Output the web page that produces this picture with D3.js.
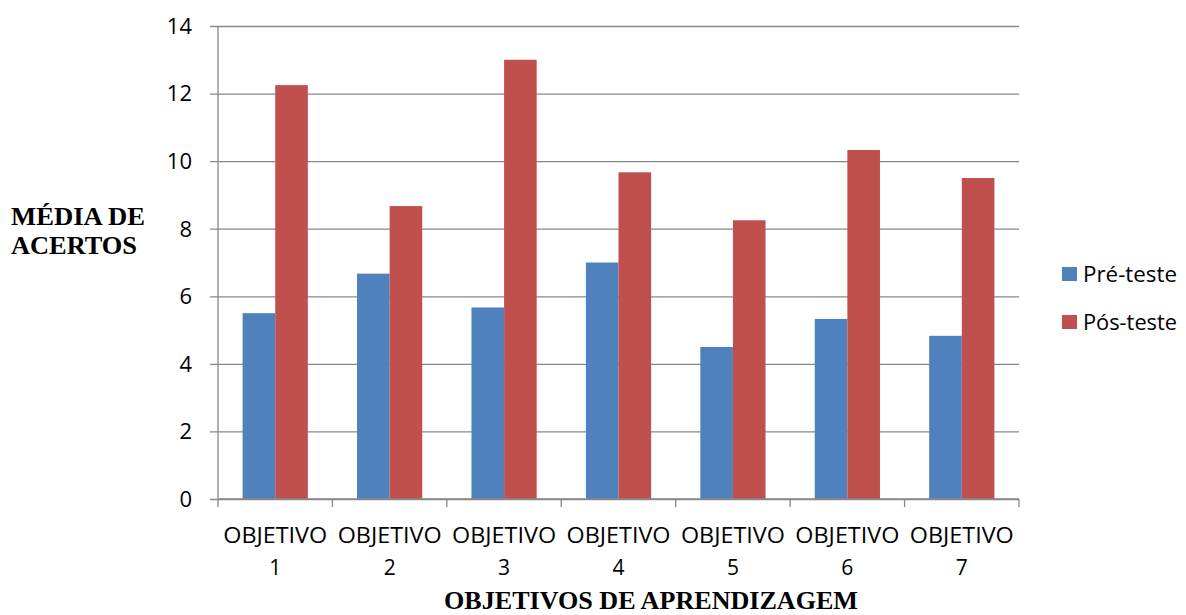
<!DOCTYPE html>
<html>
<head>
<meta charset="utf-8">
<script src="https://cdn.jsdelivr.net/npm/d3@7"></script>
<style>
  html, body { margin: 0; padding: 0; background: #fff; }
  svg { display: block; }
  .sans { font-family: "Open Sans", "Noto Sans", sans-serif; fill: #000; }
  .serif { font-family: "Liberation Serif", "DejaVu Serif", serif; font-weight: bold; fill: #000; }
</style>
</head>
<body>
<svg id="chart" width="1186" height="615"></svg>
<script>
// Average number of correct answers per learning objective, before and after
const categories = ["OBJETIVO 1", "OBJETIVO 2", "OBJETIVO 3", "OBJETIVO 4", "OBJETIVO 5", "OBJETIVO 6", "OBJETIVO 7"];
const preTeste = [5.5, 6.67, 5.67, 7.0, 4.5, 5.33, 4.83];
const posTeste = [12.25, 8.67, 13.0, 9.67, 8.25, 10.33, 9.5];
const seriesNames = ["Pré-teste", "Pós-teste"];
const seriesColors = ["#4F81BD", "#C0504D"];
const yTicks = [0, 2, 4, 6, 8, 10, 12, 14];

const svg = d3.select("#chart");
const plot = { left: 218, right: 1019, top: 26, bottom: 499 };
const gridColor = "#888888";

const x = d3.scaleBand().domain(categories).range([plot.left, plot.right]).paddingInner(0.43).paddingOuter(0.215);
const xSub = d3.scaleBand().domain(seriesNames).range([0, x.bandwidth()]);
const y = d3.scaleLinear().domain([0, 14]).range([plot.bottom, plot.top]);

// Horizontal gridlines with short outward ticks on the left
const yAxis = d3.axisLeft(y).tickValues(yTicks).tickSize(-(plot.right - plot.left) - 8).tickPadding(0).tickFormat("");
const gy = svg.append("g").attr("transform", `translate(${plot.left},0)`).call(yAxis);
gy.select(".domain").remove();
gy.selectAll(".tick line").attr("x1", -8).attr("x2", plot.right - plot.left)
  .attr("stroke", gridColor).attr("stroke-width", 1.3);

// y tick labels
svg.append("g").selectAll("text").data(yTicks).join("text")
  .attr("class", "sans")
  .attr("x", 192).attr("y", d => y(d)).attr("dy", "0.36em")
  .attr("text-anchor", "end").attr("font-size", 22)
  .text(d => d);

// Bars
const rows = categories.map((c, i) => ({ cat: c, values: [preTeste[i], posTeste[i]] }));
const groups = svg.append("g").selectAll("g").data(rows).join("g")
  .attr("transform", d => `translate(${x(d.cat)},0)`);
groups.selectAll("rect").data(d => d.values.map((v, j) => ({ name: seriesNames[j], v, j })))
  .join("rect")
  .attr("x", d => xSub(d.name))
  .attr("width", xSub.bandwidth())
  .attr("y", d => y(d.v))
  .attr("height", d => y(0) - y(d.v))
  .attr("fill", d => seriesColors[d.j]);

// Axes lines
svg.append("line").attr("x1", plot.left).attr("x2", plot.left).attr("y1", plot.top).attr("y2", plot.bottom)
  .attr("stroke", gridColor).attr("stroke-width", 1.3);
svg.append("line").attr("x1", plot.left).attr("x2", plot.right).attr("y1", plot.bottom).attr("y2", plot.bottom)
  .attr("stroke", gridColor).attr("stroke-width", 1.3);

// Category boundary ticks below the x axis
const step = (plot.right - plot.left) / categories.length;
const boundaries = d3.range(categories.length + 1).map(i => plot.left + i * step);
svg.append("g").selectAll("line").data(boundaries).join("line")
  .attr("x1", d => d).attr("x2", d => d).attr("y1", plot.bottom).attr("y2", plot.bottom + 8)
  .attr("stroke", gridColor).attr("stroke-width", 1.3);

// x category labels on two lines
const xl = svg.append("g").selectAll("g").data(categories).join("g")
  .attr("transform", d => `translate(${x(d) + x.bandwidth() / 2},0)`);
xl.append("text").attr("class", "sans").attr("y", 543).attr("text-anchor", "middle")
  .attr("font-size", 21).attr("textLength", 104).attr("lengthAdjust", "spacingAndGlyphs")
  .text(d => d.split(" ")[0]);
xl.append("text").attr("class", "sans").attr("y", 575).attr("text-anchor", "middle")
  .attr("font-size", 21)
  .text(d => d.split(" ")[1]);

// Axis titles
const yTitle = svg.append("text").attr("class", "serif").attr("font-size", 26);
yTitle.append("tspan").attr("x", 11).attr("y", 225).attr("textLength", 134).attr("lengthAdjust", "spacingAndGlyphs").text("MÉDIA DE");
yTitle.append("tspan").attr("x", 11).attr("y", 254).attr("textLength", 126).attr("lengthAdjust", "spacingAndGlyphs").text("ACERTOS");

svg.append("text").attr("class", "serif").attr("font-size", 26)
  .attr("x", 651).attr("y", 609).attr("text-anchor", "middle")
  .attr("textLength", 414).attr("lengthAdjust", "spacingAndGlyphs")
  .text("OBJETIVOS DE APRENDIZAGEM");

// Legend
const legend = svg.append("g").selectAll("g").data(seriesNames).join("g")
  .attr("transform", (d, i) => `translate(1062,${267 + i * 48})`);
legend.append("rect").attr("width", 15).attr("height", 14).attr("fill", (d, i) => seriesColors[i]);
legend.append("text").attr("class", "sans").attr("x", 21).attr("y", 15)
  .attr("font-size", 21).attr("textLength", 94).attr("lengthAdjust", "spacingAndGlyphs")
  .text(d => d);
</script>
</body>
</html>
